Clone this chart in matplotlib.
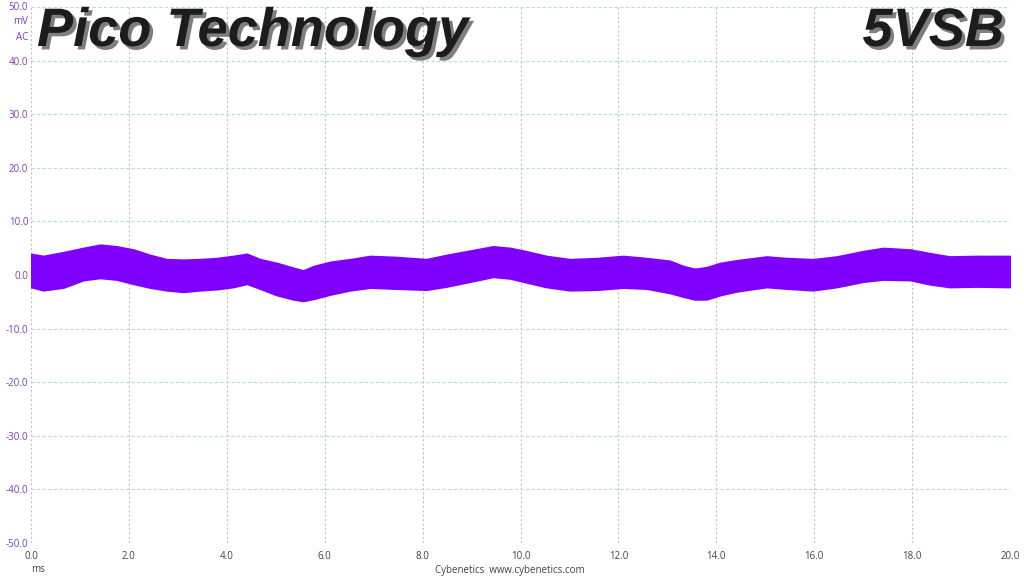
import matplotlib.pyplot as plt
import matplotlib.patheffects as pe

# envelope of the ripple band (ms, mV)
time_ms = [0.0, 0.25, 0.66, 1.07, 1.41, 1.75, 2.09, 2.43, 2.77, 3.11, 3.45,
           3.79, 4.13, 4.41, 4.68, 5.02, 5.36, 5.56, 5.77, 6.11, 6.52, 6.93,
           7.47, 8.08, 8.49, 8.97, 9.44, 9.79, 10.06, 10.53, 11.01, 11.56,
           12.10, 12.58, 13.05, 13.33, 13.56, 13.80, 14.08, 14.42, 15.03,
           15.44, 15.98, 16.46, 17.00, 17.41, 17.96, 18.37, 18.77, 19.32, 20.0]
upper_mv = [3.9, 3.5, 4.2, 5.0, 5.6, 5.3, 4.7, 3.7, 2.9, 2.8, 2.9,
            3.1, 3.5, 3.9, 2.9, 2.2, 1.3, 0.8, 1.6, 2.4, 2.9, 3.5,
            3.3, 2.9, 3.7, 4.5, 5.3, 5.0, 4.5, 3.5, 2.9, 3.1,
            3.5, 3.1, 2.6, 1.6, 1.1, 1.4, 2.2, 2.7, 3.4,
            3.1, 2.9, 3.4, 4.4, 5.0, 4.7, 4.0, 3.4, 3.5, 3.5]
lower_mv = [-2.2, -2.8, -2.3, -0.9, -0.5, -0.8, -1.6, -2.3, -2.8, -3.1, -2.8,
            -2.6, -2.2, -1.6, -2.5, -3.7, -4.5, -4.8, -4.4, -3.6, -2.8, -2.3,
            -2.5, -2.7, -2.1, -1.2, -0.3, -0.6, -1.2, -2.2, -2.8, -2.7,
            -2.3, -2.5, -3.3, -4.0, -4.5, -4.5, -3.7, -3.0, -2.2,
            -2.5, -2.8, -2.2, -1.2, -0.8, -0.9, -1.7, -2.2, -2.1, -2.2]

x_ticks = [0, 2, 4, 6, 8, 10, 12, 14, 16, 18, 20]
y_ticks = [-50, -40, -30, -20, -10, 0, 10, 20, 30, 40, 50]

trace_color = '#7f00ff'
label_purple = '#7a3fc0'

fig = plt.figure(figsize=(10.24, 5.76), dpi=100)
ax = fig.add_axes([31 / 1024, 1 - 543 / 576, 979 / 1024, 536 / 576])

ax.fill_between(time_ms, lower_mv, upper_mv, color=trace_color, lw=1.6,
                edgecolor=trace_color, zorder=3)

ax.set_xlim(0, 20)
ax.set_ylim(-50, 50)
ax.set_xticks(x_ticks)
ax.set_yticks(y_ticks)
ax.set_xticklabels([f"{v:.1f}" for v in x_ticks], fontsize=7, color='#444444',
                   family='Open Sans')
ylabels = [f"{v:.1f}" for v in y_ticks]
ylabels[-1] = ''
ax.set_yticklabels(ylabels, fontsize=7, color=label_purple, family='Open Sans')
ax.tick_params(axis='y', length=0, pad=2)
ax.tick_params(axis='x', length=0, pad=6)

for x in x_ticks:
    ax.axvline(x, color='#b8c4c8', lw=0.8, ls=(0, (2, 2)), zorder=0)
for y in y_ticks:
    ax.axhline(y, color='#b3dfe2', lw=0.8, ls=(0, (3, 2)), zorder=0)
for s in ax.spines.values():
    s.set_visible(False)

# units top-left and captions at the bottom
fig.text(28 / 1024, 1 - 7 / 576, "50.0", ha='right', va='center', fontsize=7,
         color=label_purple, family='Open Sans')
fig.text(28 / 1024, 1 - 22 / 576, "mV", ha='right', va='center', fontsize=7,
         color=label_purple, family='Open Sans')
fig.text(28 / 1024, 1 - 37 / 576, "AC", ha='right', va='center', fontsize=7,
         color=label_purple, family='Open Sans')
fig.text(38 / 1024, 1 - 570 / 576, "ms", ha='center', va='center', fontsize=7,
         color='#444444', family='Open Sans')
fig.text(510 / 1024, 1 - 570 / 576, "Cybenetics  www.cybenetics.com",
         ha='center', va='center', fontsize=7, color='#444444', family='Open Sans')

shadow = [pe.SimplePatchShadow(offset=(2.5, -2.5), shadow_rgbFace='#707070', alpha=0.9),
          pe.Normal()]
fig.text(37 / 1024, 1 - 32 / 576, "Pico Technology", ha='left', va='center',
         fontsize=39, fontweight='bold', fontstyle='italic', color='#1c1c1c',
         family='Liberation Sans', path_effects=shadow)
fig.text(1004 / 1024, 1 - 32 / 576, "5VSB", ha='right', va='center',
         fontsize=39, fontweight='bold', fontstyle='italic', color='#1c1c1c',
         family='Liberation Sans', path_effects=shadow)

fig.savefig("out.png", dpi=100)
